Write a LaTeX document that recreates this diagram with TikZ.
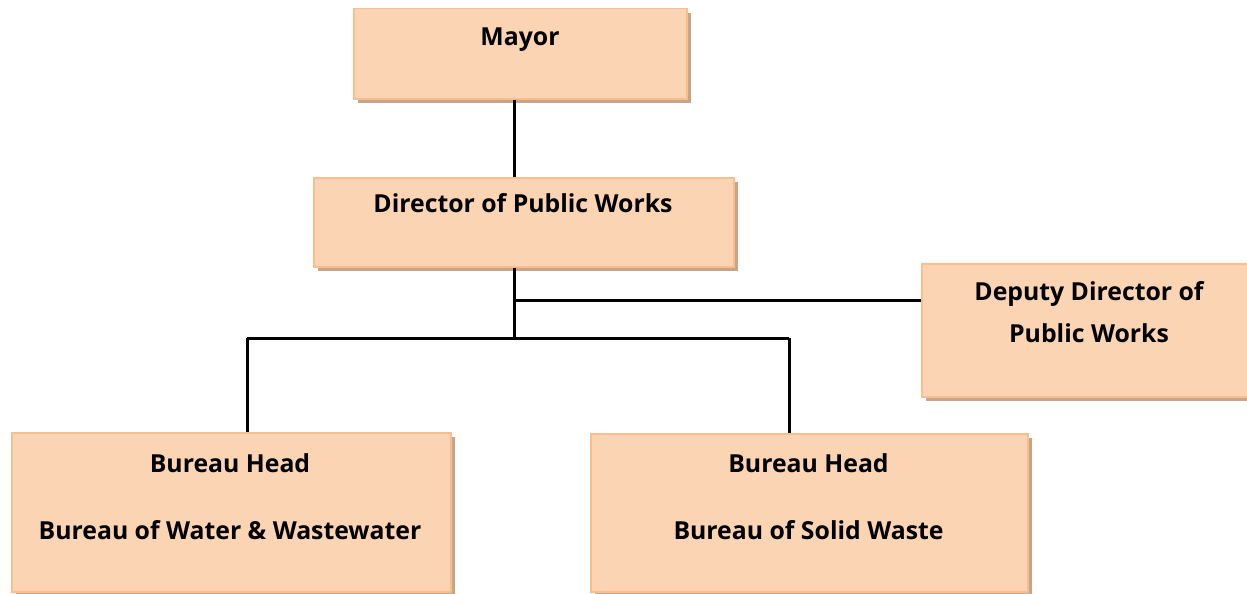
\documentclass[tikz,border=0pt]{standalone}
\usepackage{fontspec}
\setmainfont{Open Sans}
\usetikzlibrary{shadows,positioning}
\definecolor{boxfill}{HTML}{FBD4B4}
\definecolor{boxline}{HTML}{F8BE8E}
\definecolor{shadowcol}{HTML}{C8A488}
\tikzset{
  orgbox/.style={draw=boxline, line width=1.5pt, fill=boxfill, inner sep=0pt, anchor=north west,
    drop shadow={shadow xshift=4pt, shadow yshift=-4pt, fill=shadowcol, opacity=1}},
  lbl/.style={font=\fontsize{24.8}{29}\selectfont\bfseries, inner sep=0pt, anchor=center},
  conn/.style={line width=3pt, black}
}
\begin{document}
\begin{tikzpicture}[x=1pt,y=-1pt]
\useasboundingbox (0,0) rectangle (1247,594);
% boxes
\node[orgbox, minimum width=333pt, minimum height=90pt] (mayor) at (353,8) {};
\node[orgbox, minimum width=420pt, minimum height=89pt] (dir) at (313,177) {};
\node[orgbox, minimum width=336pt, minimum height=133pt] (dep) at (921,263) {};
\node[orgbox, minimum width=439pt, minimum height=159pt] (bw) at (11,432) {};
\node[orgbox, minimum width=437pt, minimum height=158pt] (bs) at (590,433) {};
% texts
\node[lbl] (tmayor) at (520,40) {Mayor};
\node[lbl] (tdir) at (523,203) {Director of Public Works};
\node[lbl] (tdep1) at (1089,294) {Deputy Director of};
\node[lbl] (tdep2) at (1089,333) {Public Works};
\node[lbl] (tbw1) at (230,463) {Bureau Head};
\node[lbl] (tbw2) at (230,530) {Bureau of Water \& Wastewater};
\node[lbl] (tbs1) at (808.5,463) {Bureau Head};
\node[lbl] (tbs2) at (808.5,530) {Bureau of Solid Waste};
% connectors
\coordinate (j1) at (514,300);
\coordinate (j2) at (514,338);
\coordinate (jl) at (247,338);
\coordinate (jr) at (789,338);
\draw[conn] (mayor.south -| j1) -- (dir.north -| j1);
\draw[conn] (dir.south -| j1) -- (j2);
\draw[conn] (j1) -- (dep.west |- j1);
\draw[conn] (jl) -- (jr);
\draw[conn] (jl) -- (bw.north -| jl);
\draw[conn] (jr) -- (bs.north -| jr);
\end{tikzpicture}
\end{document}
